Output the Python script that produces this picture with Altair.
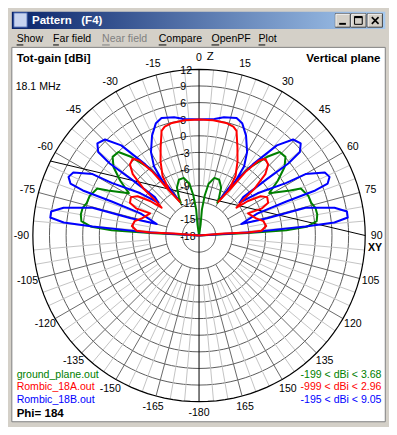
import altair as alt
import pandas as pd

# ---------------- data ----------------
# right half of each vertical-plane trace (angle from zenith in deg, gain in dBi),
# listed in drawing order; the left half is the mirror image
green_theta = [0, 8, 6.3, 8.1, 10.5, 14.9, 19.9, 24.7, 27.7, 29.2,
               32.9, 36.1, 40.9, 44.0, 47.7, 51.4, 55.2, 58.9,
               63.7, 65.2, 70.2, 73.8, 76.6, 79.9, 83.0, 85.4, 86.5, 87.2, 90]
green_gain = [-18, -15.9, -13.3, -10.65, -8.5, -7.24, -7.3, -8.47, -10.2, -11.25,
              -7.48, -3.0, 0.8, 2.95, 3.1, 1.74, -0.69, -3.2,
              0.37, 2.24, 3.0, 3.1, 3.6, 3.68, 3.4, 1.48, -2.2, -9.15, -18]

red_theta = [0, 7, 13.5, 17.5, 19.7, 23.5, 27.5, 31.5, 33.4, 29.7,
             34.0, 36.2, 38.5, 40.8, 44.2, 47.2, 49.8, 51.3, 53.4,
             54.8, 57.4, 60.6, 64.7, 66.7, 65.7,
             73.0, 77.4, 81.9, 85.6, 86.6, 85.6, 90]
red_gain = [2.96, 2.96, 2.9, 2.6, 2.07, -0.62, -2.96, -5.4, -8.24, -11.0,
            -7.76, -3.6, -0.74, 0.3, -0.11, -1.69, -4.84, -8.0, -9.58,
            -7.19, -4.83, -3.88, -4.2, -5.73, -8.3,
            -7.3, -6.1, -5.75, -6.7, -9.14, -13.5, -18]

blue_theta = [0, 7.5, 11.9, 17.7, 21.0, 25.2, 29.9, 33.1, 33.9, 30.5,
              32.4, 37.1, 40.8, 44.4, 47.8, 50.4, 51.1, 50.3, 49.0, 51.0,
              54.2, 58.9, 60.0, 63.4, 65.8, 68.0, 68.8, 68.7, 69.3, 74.7,
              75.8, 75.4, 78.4, 80.8, 83.1, 84.5, 85.1, 86.2, 90]
blue_gain = [2.96, 3.23, 3.8, 4.28, 3.73, 1.93, -0.6, -3.1, -6.5, -10.15,
             -7.3, -1.9, 3.5, 6.26, 6.78, 5.63, 2.7, -2.0, -7.43, -8.6,
             -4.97, 0.42, 4.2, 7.39, 7.83, 7.04, 4.5, -1.07, -6.7, -10.1,
             -5.3, 1.88, 6.96, 9.05, 9.05, 6.55, 1.3, -7.4, -18]

series_names = ["ground_plane.out", "Rombic_18A.out", "Rombic_18B.out"]
series_colors = ["#008000", "#ff0000", "#0000ff"]
series_ranges = ["-199 < dBi < 3.68", "-999 < dBi < 2.96", "-195 < dBi < 9.05"]

ring_values = [-15, -12, -9, -6, -3, 0, 3, 6, 9, 12]
ring_labels = ["12", "9", "6", "3", "0", "-3", "-6", "-9", "-12", "-15", "-18"]
ring_label_values = [12, 9, 6, 3, 0, -3, -6, -9, -12, -15, -18]
angle_ticks = list(range(-165, 181, 15))
angle_labels = [str(a) if a != 180 else "-180" for a in angle_ticks]

# ---------------- geometry (reference pixel units) ----------------
S = 0.96                    # page scale
W, H = 381, 419
CX, CY, K = 199, 237, 5.77  # centre and px per dB
FLOOR = -18
OUTER = 12
R_LAB = 185

FONT = "Liberation Sans"
NB = "\u00a0"

X = lambda f: alt.X(f, type="quantitative", scale=alt.Scale(domain=[0, W / S], nice=False, zero=False), axis=None)
Y = lambda f: alt.Y(f, type="quantitative", scale=alt.Scale(domain=[0, H / S], reverse=True, nice=False, zero=False), axis=None)


def px_expr(t, g):
    return f"{CX} + (max({g},{FLOOR})-({FLOOR}))*{K}*sin({t}*PI/180)"


def py_expr(t, g):
    return f"{CY} - (max({g},{FLOOR})-({FLOOR}))*{K}*cos({t}*PI/180)"


def mirror(ts, gs):
    return [-t for t in reversed(ts)] + ts, list(reversed(gs)) + gs


rows = []
for name, ts, gs in zip(series_names, [green_theta, red_theta, blue_theta], [green_gain, red_gain, blue_gain]):
    ft, fg = mirror(ts, gs)
    for i, (a, b) in enumerate(zip(ft, fg)):
        rows.append({"series": name, "seq": i, "theta": a, "gain": b})
curves = pd.DataFrame(rows)

ring_rows = []
for rv in ring_values:
    for a in range(0, 361, 3):
        ring_rows.append({"ring": rv, "theta": a, "gain": rv})
rings = pd.DataFrame(ring_rows)

spoke_rows = []
for a in range(0, 360, 5):
    if a % 90 == 0:
        continue
    if a % 15 == 0:
        spoke_rows.append({"theta": a, "g0": -12, "kind": "dark"})
    else:
        spoke_rows.append({"theta": a, "g0": -9, "kind": "light"})
spokes = pd.DataFrame(spoke_rows)
axes_df = pd.DataFrame({"theta": [0, 90], "g0": [OUTER, OUTER]})

dummy = pd.DataFrame({"d": [0]})

layers = []


def vrect(x1, y1, x2, y2, **kw):
    return alt.Chart(dummy).mark_rect(**kw).encode(
        x=alt.value(S * x1), x2=alt.value(S * x2), y=alt.value(S * y1), y2=alt.value(S * y2))


def vrule(x1, y1, x2, y2, **kw):
    return alt.Chart(dummy).mark_rule(**kw).encode(
        x=alt.value(S * x1), x2=alt.value(S * x2), y=alt.value(S * y1), y2=alt.value(S * y2))


def vtext(x, y, text, size=11, align="left", weight="normal", color="black"):
    return alt.Chart(dummy).mark_text(
        text=text, align=align, baseline="middle", font=FONT, fontSize=size * S,
        fontWeight=weight, color=color).encode(x=alt.value(S * x), y=alt.value(S * y))


# ---------------- window chrome ----------------
grad = alt.LinearGradient(gradient="linear", x1=0, x2=1, y1=0, y2=0,
                          stops=[alt.GradientStop(color="#0a246a", offset=0),
                                 alt.GradientStop(color="#a6caf0", offset=1)])
layers.append(vrect(4, 4, 393, 22, fill=grad))
layers.append(vrect(6, 5, 20, 20, fill="#c8d4f0", stroke="#3050a0", strokeWidth=1))
layers.append(vtext(25, 13.5, f"Pattern{NB}{NB}{NB}(F4)", size=12, weight="bold", color="white"))
for bx in [341, 357.5, 374.5]:
    layers.append(vrect(bx, 6, bx + 15.5, 20, fill="#d4d0c8", stroke="#404040", strokeWidth=1))
    layers.append(vrule(bx + 0.5, 6.5, bx + 15, 6.5, color="white", strokeWidth=1))
    layers.append(vrule(bx + 0.5, 6.5, bx + 0.5, 19.5, color="white", strokeWidth=1))
layers.append(vrect(345, 15.5, 352, 17.5, fill="black"))
layers.append(vrect(361, 9, 369, 17, fillOpacity=0, stroke="black", strokeWidth=1))
layers.append(vrule(361, 9.5, 369, 9.5, color="black", strokeWidth=2))
layers.append(vrule(379, 9.5, 386, 16.5, color="black", strokeWidth=1.6))
layers.append(vrule(379, 16.5, 386, 9.5, color="black", strokeWidth=1.6))

menu = [("Show", 9, "black", 7), ("Far field", 47, "black", 6), ("Near field", 98, "#808080", 8),
        ("Compare", 157, "black", 8), ("OpenPF", 212, "black", 8), ("Plot", 261, "black", 7)]
for txt, mx, col, ul in menu:
    layers.append(vtext(mx, 32, txt, size=11, color=col))
    layers.append(vrule(mx, 38.5, mx + ul, 38.5, color=col, strokeWidth=1))

layers.append(vrect(4, 41, 393, 431, fill="white", stroke="#808080", strokeWidth=1))

# ---------------- polar grid ----------------
ring_base = alt.Chart(rings).transform_calculate(
    px=px_expr("datum.theta", "datum.gain"), py=py_expr("datum.theta", "datum.gain"))
layers.append(ring_base.transform_filter(f"datum.ring < {OUTER}").mark_line(
    color="#5c5c5c", strokeWidth=1).encode(x=X("px"), y=Y("py"), detail="ring:N", order="theta:Q"))

spoke_base = alt.Chart(spokes).transform_calculate(
    px=px_expr("datum.theta", "datum.g0"), py=py_expr("datum.theta", "datum.g0"),
    px2=px_expr("datum.theta", str(OUTER)), py2=py_expr("datum.theta", str(OUTER)))
layers.append(spoke_base.transform_filter("datum.kind == 'light'").mark_rule(
    color="#c4c4c4", strokeWidth=1).encode(x=X("px"), y=Y("py"), x2="px2:Q", y2="py2:Q"))
layers.append(spoke_base.transform_filter("datum.kind == 'dark'").mark_rule(
    color="#6a6a6a", strokeWidth=1).encode(x=X("px"), y=Y("py"), x2="px2:Q", y2="py2:Q"))

layers.append(ring_base.transform_filter(f"datum.ring == {OUTER}").mark_line(
    color="black", strokeWidth=1.2).encode(x=X("px"), y=Y("py"), detail="ring:N", order="theta:Q"))

layers.append(alt.Chart(axes_df).transform_calculate(
    px=px_expr("datum.theta", "datum.g0"), py=py_expr("datum.theta", "datum.g0"),
    px2=px_expr("datum.theta + 180", "datum.g0"), py2=py_expr("datum.theta + 180", "datum.g0")
).mark_rule(color="black", strokeWidth=1).encode(x=X("px"), y=Y("py"), x2="px2:Q", y2="py2:Q"))

# angle labels
ang = pd.DataFrame({"theta": angle_ticks, "label": angle_labels})
layers.append(alt.Chart(ang).transform_calculate(
    px=f"{CX} + {R_LAB}*sin(datum.theta*PI/180)",
    py=f"{CY} - {R_LAB}*cos(datum.theta*PI/180)").mark_text(
    font=FONT, fontSize=11 * S, color="black", align="center", baseline="middle").encode(
    x=X("px"), y=Y("py"), text="label:N"))
layers.append(vtext(207, 51, "Z", size=12))
layers.append(vtext(375, 250, "XY", size=11, weight="bold"))

# gain labels
rl = pd.DataFrame({"gain": ring_label_values, "label": ring_labels})
layers.append(alt.Chart(rl).transform_calculate(
    px="179.5", py=f"{CY} + 1.5 - (datum.gain-({FLOOR}))*{K}").mark_text(
    font=FONT, fontSize=11 * S, color="black", align="left", baseline="middle").encode(
    x=X("px"), y=Y("py"), text="label:N"))

# ---------------- traces ----------------
curve_base = alt.Chart(curves).transform_calculate(
    px=px_expr("datum.theta", "datum.gain"), py=py_expr("datum.theta", "datum.gain"))
for name, col in [(series_names[0], series_colors[0]), (series_names[2], series_colors[2]),
                  (series_names[1], series_colors[1])]:
    layers.append(curve_base.transform_filter(alt.datum.series == name).mark_line(
        color=col, strokeWidth=2, strokeJoin="round").encode(x=X("px"), y=Y("py"), order="seq:Q"))

# ---------------- texts ----------------
layers.append(vtext(9, 53, "Tot-gain [dBi]", size=12, weight="bold"))
layers.append(vtext(388, 53, "Vertical plane", size=12, weight="bold", align="right"))
layers.append(vtext(8, 82, "18.1 MHz", size=11))
for i, (nm, col, rg) in enumerate(zip(series_names, series_colors, series_ranges)):
    yy = 382 + 13.3 * i
    layers.append(vtext(9, yy, nm, size=11, color=col))
    layers.append(vtext(389, yy, rg, size=11, color=col, align="right"))
layers.append(vtext(9, 423, "Phi= 184", size=12, weight="bold"))

chart = alt.layer(*layers).properties(
    width=W, height=H, padding=0, background="#d4d0c8",
    autosize=alt.AutoSizeParams(type="none")
).configure_view(strokeWidth=0)

chart.save("out.html", embed_options={"renderer": "svg", "actions": False})
